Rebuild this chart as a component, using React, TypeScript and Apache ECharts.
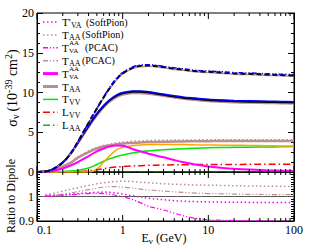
import React, { useEffect, useRef } from "react";
import * as echarts from "echarts";

// ---------- data ----------
const E = [0.1, 0.12, 0.15, 0.2, 0.25, 0.3, 0.4, 0.5, 0.6, 0.7, 0.85, 1, 1.3, 1.6, 2, 3, 4, 5, 7, 10, 15, 20, 30, 50, 70, 100];

const upperBlack = [0, 0.05, 0.3, 1.2, 2.4, 3.8, 6.2, 8.0, 9.4, 10.5, 11.7, 12.4, 13.1, 13.35, 13.4, 13.2, 13.0, 12.9, 12.7, 12.6, 12.5, 12.4, 12.35, 12.25, 12.2, 12.15];
const upperBlue = [0, 0.05, 0.3, 1.2, 2.4, 3.8, 6.2, 8.0, 9.45, 10.6, 11.8, 12.5, 13.2, 13.45, 13.5, 13.3, 13.1, 13.0, 12.8, 12.7, 12.6, 12.5, 12.45, 12.35, 12.3, 12.25];
const upperRosy = [0, 0.05, 0.3, 1.2, 2.35, 3.75, 6.1, 7.9, 9.3, 10.4, 11.6, 12.3, 13.0, 13.25, 13.3, 13.1, 12.9, 12.8, 12.6, 12.5, 12.4, 12.3, 12.25, 12.15, 12.1, 12.05];
const lowerBlue = [0, 0.05, 0.3, 1.2, 2.4, 3.7, 5.8, 7.3, 8.35, 9.05, 9.7, 10.0, 10.2, 10.2, 10.1, 9.8, 9.6, 9.45, 9.3, 9.15, 9.05, 9.0, 8.95, 8.9, 8.88, 8.85];
const lowerBlack = [0, 0.05, 0.3, 1.2, 2.4, 3.7, 5.8, 7.3, 8.3, 9.0, 9.6, 9.9, 10.1, 10.1, 10.0, 9.7, 9.5, 9.35, 9.2, 9.05, 8.95, 8.9, 8.85, 8.8, 8.78, 8.75];
const lowerRosy = [0, 0.05, 0.3, 1.2, 2.35, 3.6, 5.65, 7.1, 8.1, 8.8, 9.4, 9.7, 9.9, 9.9, 9.8, 9.55, 9.35, 9.2, 9.05, 8.9, 8.8, 8.75, 8.7, 8.65, 8.63, 8.6];

const TpVA = [0, 0.02, 0.12, 0.45, 0.85, 1.25, 2.0, 2.6, 2.95, 3.2, 3.32, 3.3, 2.9, 2.6, 2.3, 1.85, 1.5, 1.25, 0.95, 0.7, 0.5, 0.4, 0.3, 0.2, 0.17, 0.13];
const TAA = [0, 0.03, 0.2, 0.7, 1.2, 1.8, 2.5, 2.95, 3.2, 3.35, 3.48, 3.57, 3.66, 3.72, 3.76, 3.8, 3.83, 3.85, 3.87, 3.88, 3.9, 3.9, 3.9, 3.9, 3.9, 3.9];
const TAAsoft = [0, 0.03, 0.2, 0.72, 1.25, 1.88, 2.65, 3.1, 3.35, 3.5, 3.65, 3.75, 3.87, 3.92, 3.96, 4.0, 4.02, 4.03, 4.04, 4.05, 4.05, 4.06, 4.06, 4.06, 4.06, 4.06];
const orangeT = [0, 0, 0, 0, 0, 0, 0, 0.35, 1.25, 2.0, 2.8, 3.1, 3.3, 3.4, 3.45, 3.45, 3.45, 3.45, 3.42, 3.4, 3.38, 3.36, 3.34, 3.3, 3.28, 3.27];
const TVV = [0, 0, 0, 0.05, 0.12, 0.22, 0.5, 0.95, 1.35, 1.65, 1.95, 2.15, 2.4, 2.55, 2.65, 2.8, 2.88, 2.93, 3.0, 3.05, 3.08, 3.1, 3.12, 3.15, 3.17, 3.2];
const LVV = [0, 0, 0, 0, 0.02, 0.05, 0.15, 0.3, 0.42, 0.52, 0.62, 0.68, 0.76, 0.8, 0.84, 0.88, 0.9, 0.92, 0.93, 0.94, 0.95, 0.95, 0.96, 0.96, 0.96, 0.96];
const LAA = [0, 0, 0, 0, 0, 0, 0.01, 0.02, 0.02, 0.03, 0.03, 0.03, 0.03, 0.03, 0.03, 0.03, 0.03, 0.03, 0.03, 0.03, 0.03, 0.03, 0.03, 0.03, 0.03, 0.03];

const Er = [0.125, 0.15, 0.2, 0.25, 0.3, 0.4, 0.5, 0.6, 0.7, 0.85, 1, 1.3, 1.6, 2, 3, 4, 5, 7, 10, 15, 20, 30, 50, 100];
const rTAAsoft = [1.007, 1.012, 1.022, 1.03, 1.036, 1.045, 1.052, 1.056, 1.059, 1.061, 1.062, 1.061, 1.058, 1.056, 1.052, 1.05, 1.049, 1.047, 1.046, 1.045, 1.044, 1.043, 1.042, 1.041];
const rTAApcac = [1.003, 1.005, 1.01, 1.015, 1.02, 1.028, 1.034, 1.038, 1.04, 1.04, 1.038, 1.034, 1.03, 1.027, 1.022, 1.019, 1.017, 1.014, 1.012, 1.011, 1.01, 1.009, 1.008, 1.008];
const rTpVAsoft = [1.004, 1.005, 1.007, 1.01, 1.012, 1.015, 1.017, 1.018, 1.017, 1.014, 1.01, 1.003, 0.998, 0.993, 0.987, 0.983, 0.981, 0.979, 0.978, 0.977, 0.977, 0.976, 0.976, 0.976];
const rTpVApcac = [1.0, 1.001, 1.004, 1.007, 1.009, 1.012, 1.013, 1.012, 1.009, 1.004, 0.999, 0.988, 0.975, 0.96, 0.945, 0.932, 0.922, 0.911, 0.905, 0.903, 0.902, 0.901, 0.9, 0.9];
const dipoleE = [0.1, 100];
const dipoleR = [1, 1];

const majorX = [0.1, 1, 10, 100];
const minorX = [0.2, 0.3, 0.4, 0.5, 0.6, 0.7, 0.8, 0.9, 2, 3, 4, 5, 6, 7, 8, 9, 20, 30, 40, 50, 60, 70, 80, 90];

// ---------- styles ----------
const FONT = "Liberation Serif";
const MAG = "#ff00ff";
const ROSY = "#bc8f8f";
const GREEN = "#00e600";
const LGREEN = "#22b022";
const RED = "#ff0000";
const ORANGE = "#ffa500";
const BLUE = "#0000ff";
const DOT = [1.5, 2.5];
const DDOT = [5, 2, 1.2, 2, 1.2, 2];
const DASHDOT = [7, 3, 1.5, 3];

const zip = (xs: number[], ys: number[]) => xs.map((x, i) => [x, ys[i]]);

function line(name: string, xs: number[], ys: number[], color: string, width: number, type: any, grid: number, z = 2) {
  return {
    name,
    type: "line",
    xAxisIndex: grid,
    yAxisIndex: grid === 0 ? 0 : 2,
    data: zip(xs, ys),
    showSymbol: false,
    symbol: "none",
    smooth: 0.35,
    lineStyle: { color, width, type },
    itemStyle: { color },
    z,
    silent: true,
  };
}

function tickSeries(grid: number) {
  return {
    type: "custom",
    xAxisIndex: grid,
    yAxisIndex: grid === 0 ? 0 : 2,
    silent: true,
    clip: false,
    z: 10,
    data: [...majorX, ...minorX].map((x) => [x, grid === 0 ? 0 : 0.9]),
    renderItem: (params: any, api: any) => {
      const x = api.value(0);
      const p = api.coord([x, api.value(1)]);
      const cs = params.coordSys;
      const len = majorX.indexOf(x) >= 0 ? 6 : 3;
      const top = cs.y;
      const bot = cs.y + cs.height;
      return {
        type: "group",
        children: [
          { type: "line", shape: { x1: p[0], y1: bot, x2: p[0], y2: bot - len }, style: { stroke: "#000", lineWidth: 1 } },
          { type: "line", shape: { x1: p[0], y1: top, x2: p[0], y2: top + len }, style: { stroke: "#000", lineWidth: 1 } },
        ],
      };
    },
  };
}

function txt(x: number, y: number, s: string, size: number, extra: any = {}) {
  return {
    type: "text",
    x,
    y,
    silent: true,
    style: { text: s, fontSize: size, fontFamily: FONT, fill: "#000", verticalAlign: "middle", align: "left", ...extra },
  };
}

type Piece = { t: string; dx: number; dy: number; s: number };
const legendRows: { color: string; width: number; dash: any; pieces: Piece[] }[] = [
  { color: MAG, width: 1.5, dash: DOT, pieces: [{ t: "T'", dx: 0, dy: 0, s: 11 }, { t: "VA", dx: 9, dy: 3, s: 8 }, { t: "(SoftPion)", dx: 24, dy: 0, s: 10 }] },
  { color: ROSY, width: 1.5, dash: DOT, pieces: [{ t: "T", dx: 0, dy: 0, s: 11 }, { t: "AA", dx: 7, dy: 2.5, s: 8 }, { t: "(SoftPion)", dx: 20, dy: 0, s: 10 }] },
  { color: MAG, width: 1.5, dash: DDOT, pieces: [{ t: "T", dx: 0, dy: 0, s: 11 }, { t: "AA", dx: 7, dy: -5, s: 7 }, { t: "VA", dx: 7, dy: 3.5, s: 7 }, { t: "(PCAC)", dx: 23, dy: 0, s: 10 }] },
  { color: ROSY, width: 1.5, dash: DDOT, pieces: [{ t: "T", dx: 0, dy: 0, s: 11 }, { t: "AA", dx: 7, dy: 2.5, s: 8 }, { t: "(PCAC)", dx: 20, dy: 0, s: 10 }] },
  { color: MAG, width: 3, dash: "solid", pieces: [{ t: "T", dx: 0, dy: 0, s: 11 }, { t: "AA", dx: 7, dy: -5, s: 7 }, { t: "VA", dx: 7, dy: 3.5, s: 7 }] },
  { color: ROSY, width: 3, dash: "solid", pieces: [{ t: "T", dx: 0, dy: 0, s: 11 }, { t: "AA", dx: 7, dy: 2.5, s: 8 }] },
  { color: GREEN, width: 1.5, dash: "solid", pieces: [{ t: "T", dx: 0, dy: 0, s: 11 }, { t: "VV", dx: 7, dy: 3, s: 8 }] },
  { color: RED, width: 1.5, dash: DASHDOT, pieces: [{ t: "L", dx: 0, dy: 0, s: 11 }, { t: "VV", dx: 7, dy: 3, s: 8 }] },
  { color: LGREEN, width: 1.5, dash: DASHDOT, pieces: [{ t: "L", dx: 0, dy: 0, s: 11 }, { t: "AA", dx: 7, dy: 3, s: 8 }] },
];
const legendY0 = 22;
const legendStep = 12.9;

export default function App() {
  const ref = useRef<HTMLDivElement>(null);
  useEffect(() => {
    if (!ref.current) return;
    const chart = echarts.init(ref.current, undefined, { renderer: "svg" });

    const graphics: any[] = [];
    legendRows.forEach((r, i) => {
      const y = legendY0 + i * legendStep;
      graphics.push({
        type: "line",
        silent: true,
        shape: { x1: 43, y1: y, x2: 58, y2: y },
        style: { stroke: r.color, lineWidth: r.width, lineDash: r.dash === "solid" ? null : r.dash },
        z: 20,
      });
      r.pieces.forEach((p) => graphics.push({ ...txt(62 + p.dx, y + p.dy, p.t, p.s), z: 20 }));
    });
    graphics.push({
      type: "text",
      x: 12,
      y: 88,
      rotation: Math.PI / 2,
      silent: true,
      style: {
        text: "{m|σ}{sub|ν} {m|(10}{sup|-39}{m| cm}{sup|2}{m|)}",
        fontFamily: FONT,
        fill: "#000",
        align: "center",
        verticalAlign: "middle",
        rich: {
          m: { fontSize: 14, fontFamily: FONT },
          sub: { fontSize: 10, fontFamily: FONT, padding: [7, 0, 0, 0] },
          sup: { fontSize: 10, fontFamily: FONT, padding: [0, 0, 8, 0] },
        },
      },
    });
    graphics.push({
      type: "text",
      x: 11,
      y: 196,
      rotation: Math.PI / 2,
      silent: true,
      style: { text: "Ratio to Dipole", fontFamily: FONT, fontSize: 12, fill: "#000", align: "center", verticalAlign: "middle" },
    });
    graphics.push({
      type: "text",
      x: 164,
      y: 238,
      silent: true,
      style: {
        text: "{m|E}{sub|ν}{m| (GeV)}",
        fontFamily: FONT,
        fill: "#000",
        align: "center",
        verticalAlign: "middle",
        rich: {
          m: { fontSize: 12, fontFamily: FONT },
          sub: { fontSize: 9, fontFamily: FONT, padding: [6, 0, 0, 0] },
        },
      },
    });

    const xBase = (grid: number, labels: boolean) => ({
      type: "log",
      logBase: 10,
      gridIndex: grid,
      min: 0.1,
      max: 100,
      axisLine: { show: true, lineStyle: { color: "#000", width: 1 } },
      axisTick: { show: false },
      splitLine: { show: false },
      axisLabel: {
        show: labels,
        margin: 3,
        fontFamily: FONT,
        fontSize: 12,
        color: "#000",
        alignMinLabel: "left",
        formatter: (v: number) => String(+Number(v).toPrecision(3)),
      },
    });
    const yBase = (grid: number, pos: string, min: number, max: number, interval: number, split: number, labels: boolean, fmt?: any) => ({
      type: "value",
      gridIndex: grid,
      position: pos,
      min,
      max,
      interval,
      axisLine: { show: true, lineStyle: { color: "#000", width: 1 } },
      axisTick: { show: true, inside: true, length: 6, lineStyle: { color: "#000" } },
      minorTick: { show: true, splitNumber: split, length: 3, lineStyle: { color: "#000" } },
      splitLine: { show: false },
      minorSplitLine: { show: false },
      axisLabel: { show: labels, margin: 3, fontFamily: FONT, fontSize: 12, color: "#000", formatter: fmt },
    });

    const option: any = {
      animation: false,
      textStyle: { fontFamily: FONT },
      grid: [
        { left: 37, top: 13, width: 257, height: 159, show: true, borderColor: "#000", borderWidth: 1, backgroundColor: "transparent" },
        { left: 37, top: 172, width: 257, height: 49, show: true, borderColor: "#000", borderWidth: 1, backgroundColor: "transparent" },
      ],
      xAxis: [xBase(0, false), xBase(1, true)],
      yAxis: [
        yBase(0, "left", 0, 20, 5, 4, true, (v: number) => String(v)),
        yBase(0, "right", 0, 20, 5, 4, false),
        yBase(1, "left", 0.9, 1.1, 0.1, 10, true, (v: number) => (Math.abs(v - 1.1) < 1e-6 ? "" : String(+v.toFixed(2)))),
        yBase(1, "right", 0.9, 1.1, 0.1, 10, false),
      ],
      graphic: graphics,
      series: [
        line("LAA", E, LAA, "#0a6a0a", 1.5, DASHDOT, 0),
        line("LVV", E, LVV, RED, 1.5, DASHDOT, 0),
        line("TVV", E, TVV, GREEN, 1.5, "solid", 0),
        line("Orange", E, orangeT, ORANGE, 1.5, "solid", 0),
        line("TAA", E, TAA, ROSY, 2.5, "solid", 0),
        line("TAA (SoftPion)", E, TAAsoft, ROSY, 1.5, DOT, 0),
        line("T'VA", E, TpVA, MAG, 2, "solid", 0),
        line("Lower rosy", E, lowerRosy, ROSY, 2, "solid", 0),
        line("Lower black", E, lowerBlack, "#000", 2, "solid", 0),
        line("Lower blue", E, lowerBlue, BLUE, 1.5, "solid", 0),
        line("Upper rosy", E, upperRosy, ROSY, 1.5, "solid", 0),
        line("Upper black", E, upperBlack, "#000", 2, [5, 3], 0),
        line("Upper blue", E, upperBlue, BLUE, 1.5, DDOT, 0),
        line("Dipole", dipoleE, dipoleR, "#555", 1, "solid", 1),
        line("r TAA (SoftPion)", Er, rTAAsoft, ROSY, 1.5, DOT, 1),
        line("r TAA (PCAC)", Er, rTAApcac, ROSY, 1.2, DDOT, 1),
        line("r T'VA (SoftPion)", Er, rTpVAsoft, MAG, 1.5, DOT, 1),
        line("r T'VA (PCAC)", Er, rTpVApcac, MAG, 1.2, DDOT, 1),
        tickSeries(0),
        tickSeries(1),
      ],
    };
    chart.setOption(option);
    return () => chart.dispose();
  }, []);
  return <div ref={ref} style={{ position: "absolute", left: 0, top: 0, width: 319, height: 247 }} />;
}
